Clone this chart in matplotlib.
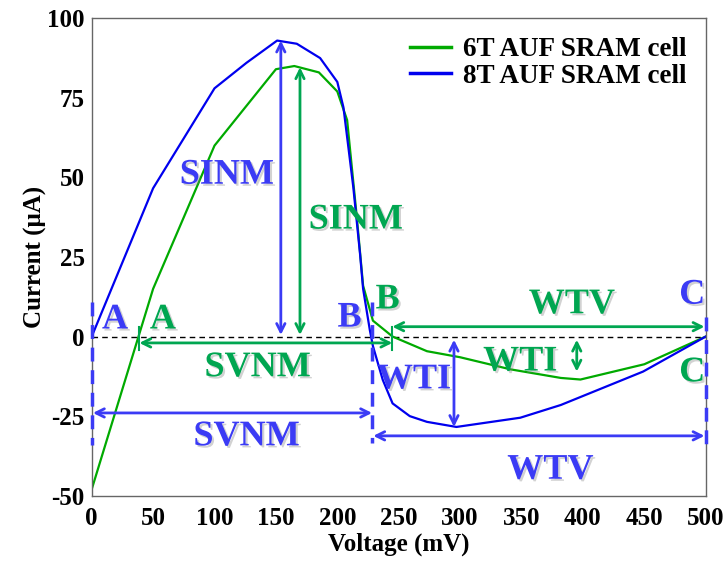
import matplotlib
matplotlib.use('Agg')
import matplotlib.pyplot as plt
import matplotlib.patheffects as pe

# 6T AUF SRAM cell (green)
v_6t = [0, 50, 100, 150, 165, 185, 200, 208, 216, 221, 229, 245, 273, 300, 341, 382, 398, 450, 500]
i_6t = [-48, 15, 60, 84, 85, 83, 77, 68, 37, 16, 5, 0, -4.6, -6.5, -10.3, -13, -13.5, -8.7, 0]

# 8T AUF SRAM cell (blue)
v_8t = [0, 50, 100, 126, 151, 167, 186, 200, 205, 213, 218.5, 221, 226.5, 229, 237, 245, 259, 273, 297, 349, 382, 449, 500]
i_8t = [0, 46.6, 78, 86, 93, 92, 87.5, 80, 72, 47, 26, 15, 2, -3, -13.6, -21, -25, -26.8, -28.4, -25.5, -21.5, -11, 0]

x_ticks = [0, 50, 100, 150, 200, 250, 300, 350, 400, 450, 500]
y_ticks = [-50, -25, 0, 25, 50, 75, 100]

# margin points
a6, b6, c6 = 38.8, 244.8, 500
a8, b8, c8 = 0, 228.3, 500
sinm6_x, sinm6_y = 169.6, 84.6
sinm8_x, sinm8_y = 154, 93
wti6_x, wti6_y = 395, -13
wti8_x, wti8_y = 295, -28.4

C_BLUE = '#0000ee'
C_GREEN = '#00aa00'
T_BLUE = '#3b3bf5'
T_GREEN = '#00a651'

plt.rcParams['font.family'] = ['Liberation Serif', 'DejaVu Serif']
plt.rcParams['font.weight'] = 'bold'
plt.rcParams['axes.unicode_minus'] = False

fig = plt.figure(figsize=(7.25, 5.68), dpi=100)
ax = fig.add_axes([0.1265, 0.1273, 0.8469, 0.8405])

ax.plot(v_6t, i_6t, color=C_GREEN, lw=1.6, label='6T AUF SRAM cell')
ax.plot(v_8t, i_8t, color=C_BLUE, lw=1.6, label='8T AUF SRAM cell')
ax.axhline(0, color='black', lw=1, ls=(0, (4, 3)), zorder=1)

ax.set_xlim(0, 500)
ax.set_ylim(-50, 100)
ax.set_xticks(x_ticks)
ax.set_yticks(y_ticks)
ax.tick_params(length=0, labelsize=18, pad=8)
ax.tick_params(axis='y', pad=5)
for s in ax.spines.values():
    s.set_color('#666666')
    s.set_linewidth(1)
ax.set_xlabel('Voltage (mV)', fontsize=18, fontweight='bold', labelpad=2)
ax.set_ylabel('Current (\u03bcA)', fontsize=18, fontweight='bold', labelpad=0)

shadow = [pe.withSimplePatchShadow(offset=(1.5, -1.5), shadow_rgbFace='gray', alpha=0.35)]


def arrow(x0, y0, x1, y1, c):
    ax.annotate('', xy=(x1, y1), xytext=(x0, y0),
                arrowprops=dict(arrowstyle='<->,head_length=0.6,head_width=0.3',
                                color=c, lw=2, shrinkA=0, shrinkB=0))


def label(x, y, s, c):
    ax.text(x, y, s, color=c, fontsize=26, fontweight='bold', ha='center', va='center',
            path_effects=shadow)


# blue dashed markers
for x, y0, y1 in [(a8, 11, -34), (b8, 11, -33.5), (c8, 6, -36)]:
    ax.plot([x, x], [y0, y1], color=T_BLUE, lw=2.5, ls=(0, (4, 2.5)), clip_on=False, zorder=5)

# green end ticks of SVNM
for x in [a6, b6]:
    ax.plot([x, x], [3, -4.3], color=T_GREEN, lw=1.5)

# arrows
arrow(sinm8_x, 0.5, sinm8_x, sinm8_y, T_BLUE)
arrow(sinm6_x, 0.5, sinm6_x, sinm6_y, T_GREEN)
arrow(a6, -2, b6, -2, T_GREEN)
arrow(a8 + 1, -24, b8, -24, T_BLUE)
arrow(b6, 3.1, c6 - 1, 3.1, T_GREEN)
arrow(b8 + 1, -31.2, c8 - 1, -31.2, T_BLUE)
arrow(wti6_x, -1, wti6_x, -11, T_GREEN)
arrow(wti8_x, -1, wti8_x, wti8_y, T_BLUE)

# labels
label(19, 5.2, 'A', T_BLUE)
label(58, 5.2, 'A', T_GREEN)
label(210, 5.8, 'B', T_BLUE)
label(241, 11.5, 'B', T_GREEN)
label(489, 13, 'C', T_BLUE)
label(489, -11.4, 'C', T_GREEN)
label(110, 50.7, 'SINM', T_BLUE)
label(215, 36.6, 'SINM', T_GREEN)
label(135, -9.8, 'SVNM', T_GREEN)
label(126, -31.5, 'SVNM', T_BLUE)
label(391, 10, 'WTV', T_GREEN)
label(373.5, -42, 'WTV', T_BLUE)
label(349, -8, 'WTI', T_GREEN)
label(262.5, -13.6, 'WTI', T_BLUE)

leg = ax.legend(loc='upper right', frameon=False, handlelength=1.5,
                handletextpad=0.45, labelspacing=0.05, borderaxespad=0.3,
                prop={'weight': 'bold', 'size': 19.5})
for line in leg.get_lines():
    line.set_linewidth(2.5)

fig.savefig('out.png', dpi=100)
